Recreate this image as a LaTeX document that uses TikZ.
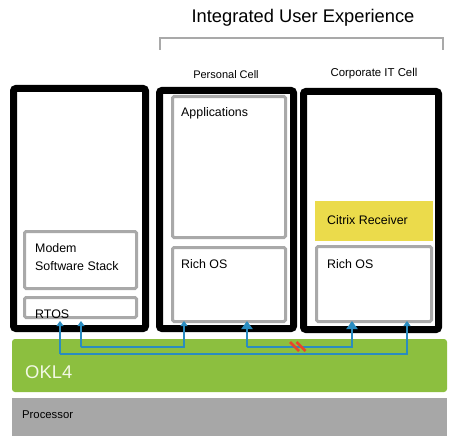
\documentclass[tikz,border=0pt]{standalone}
\usepackage{fontspec}
\setmainfont{Liberation Sans}
\usetikzlibrary{arrows.meta}
\definecolor{okgreen}{HTML}{8CBF3F}
\definecolor{procgray}{HTML}{A7A7A7}
\definecolor{boxgray}{HTML}{A9A9A9}
\definecolor{linkblue}{HTML}{2A8CC0}
\definecolor{citrix}{HTML}{EBDB4B}
\definecolor{breakred}{HTML}{E8452C}
\definecolor{okltext}{HTML}{F2F8E4}
\tikzset{
  cell/.style={draw=black, line width=7pt, rounded corners=2.5pt, shape=rectangle, inner sep=0pt, outer sep=0pt},
  layer/.style={draw=boxgray, line width=3pt, rounded corners=1.5pt, shape=rectangle, inner sep=0pt, outer sep=0pt},
  txt/.style={anchor=base west, inner sep=0pt, font=\fontsize{12.4}{14}\selectfont},
  link/.style={draw=linkblue, line width=2.9pt},
  smalltip/.style={-{Triangle[length=5pt,width=7pt]}},
  bigtip/.style={-{Triangle[length=8pt,width=11pt]}},
}
\begin{document}
\begin{tikzpicture}[x=1pt,y=-1pt]
\useasboundingbox (0,0) rectangle (450,444);
% title and bracket
\node[anchor=base, inner sep=0pt, font=\fontsize{18.3}{20}\selectfont] (title) at (303,22.5) {Integrated User Experience};
\draw[draw=boxgray, line width=1.6pt] (160,50) -- (160,38) -- (443,38) -- (443,50);
\node[anchor=base, inner sep=0pt, font=\fontsize{11}{13}\selectfont] (plabel) at (226,78) {Personal Cell};
\node[anchor=base, inner sep=0pt, font=\fontsize{11.4}{13}\selectfont] (clabel) at (374,77) {Corporate IT Cell};
% bottom layers
\fill[okgreen, rounded corners=3pt] (12,339) rectangle (447,392);
\node[txt, text=okltext, font=\fontsize{18.4}{20}\selectfont] (okl) at (25,378) {OKL4};
\fill[procgray] (12,398) rectangle (447,436);
\node[txt, font=\fontsize{11.3}{13}\selectfont] (proc) at (22,418) {Processor};
% cells
\node[cell, minimum width=132pt, minimum height=240pt] (leftcell) at (79.5,208.5) {};
\node[cell, minimum width=134pt, minimum height=238pt] (midcell) at (226.5,209.5) {};
\node[cell, minimum width=135pt, minimum height=238pt] (rightcell) at (371,210.5) {};
% inner layers
\node[layer, minimum width=112pt, minimum height=57pt] (modem) at (80.5,260) {};
\node[layer, minimum width=112pt, minimum height=20pt] (rtos) at (80.5,307.5) {};
\node[layer, minimum width=113pt, minimum height=141pt] (apps) at (229,167) {};
\node[layer, minimum width=113pt, minimum height=74pt] (richmid) at (229,284.5) {};
\node[fill=citrix, minimum width=118pt, minimum height=40pt, inner sep=0pt, outer sep=0pt] (citrixbox) at (374,221) {};
\node[layer, minimum width=115pt, minimum height=75pt] (richright) at (374,284) {};
% texts
\node[txt] (tmodem) at (35,252) {Modem};
\node[txt] (tsoft) at (35,270) {Software Stack};
\node[txt] (trtos) at (35,318) {RTOS};
\node[txt] (tapps) at (181,116) {Applications};
\node[txt] (trich1) at (181,268) {Rich OS};
\node[txt] (tcitrix) at (327,224) {Citrix Receiver};
\node[txt] (trich2) at (327,268) {Rich OS};
% link end points
\coordinate (a1s) at (60,321);
\coordinate (a1e) at (407,321);
\coordinate (a2s) at (81,321);
\coordinate (a2e) at (184,321);
\coordinate (a3s) at (247,321);
\coordinate (a3e) at (352,321);
% links
\draw[link, smalltip] (60,354) -- (a1s);
\draw[link, smalltip] (60,354) -- (407,354) -- (a1e);
\draw[link, smalltip] (81,347) -- (a2s);
\draw[link, smalltip] (81,347) -- (184,347) -- (a2e);
\draw[link, bigtip] (247,347) -- (a3s);
\draw[link, bigtip] (247,347) -- (352,347) -- (a3e);
% break mark
\draw[breakred, line width=2.6pt] (290,342) -- (299,351);
\draw[breakred, line width=2.6pt] (296.5,342) -- (305.5,351);
\end{tikzpicture}
\end{document}
